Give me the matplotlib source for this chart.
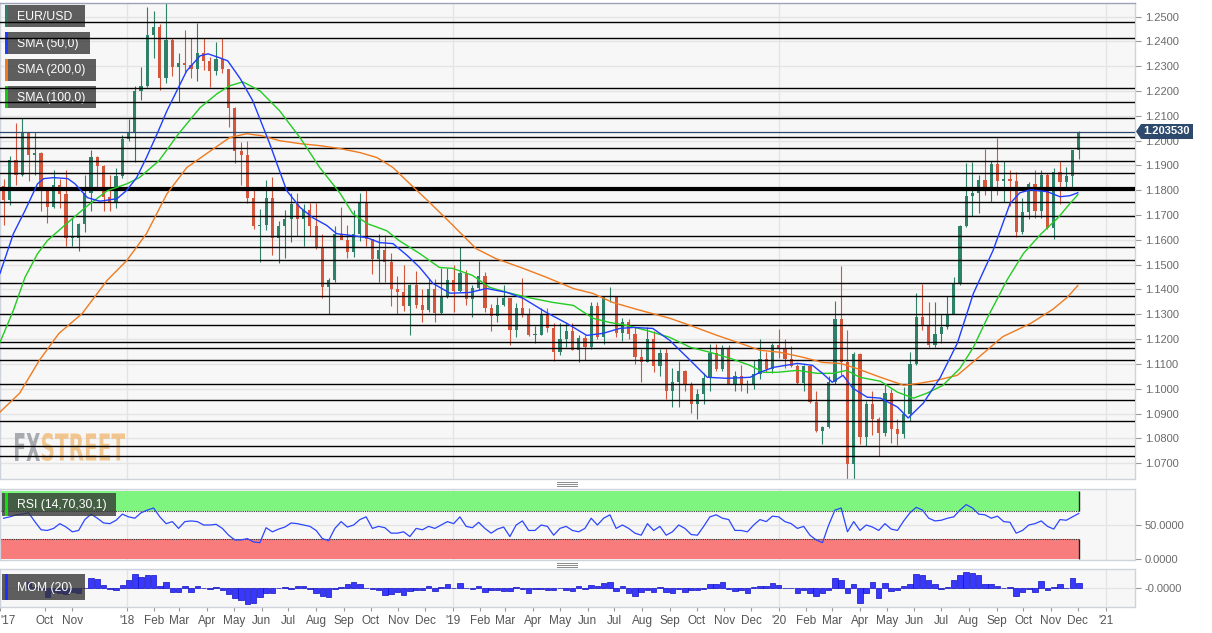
import numpy as np
import pandas as pd
import matplotlib
matplotlib.use("Agg")
import matplotlib.pyplot as plt
import matplotlib.dates as mdates
from matplotlib.patches import Rectangle, PathPatch, Polygon
from matplotlib.textpath import TextPath
from matplotlib.font_manager import FontProperties
from matplotlib.transforms import Affine2D
from matplotlib.lines import Line2D
from matplotlib.ticker import FormatStrFormatter

plt.rcParams['font.family'] = ['Liberation Sans', 'DejaVu Sans']

# ---------------- data (weekly EUR/USD) ----------------
first_week = '2017-08-14'
first_open = 1.1818

highs = [1.1845, 1.1940, 1.2070, 1.2092, 1.2035, 1.2034, 1.1953, 1.1815, 1.1880, 1.1845,
         1.1880, 1.1688, 1.1668, 1.1861, 1.1961, 1.1940, 1.1900, 1.1863, 1.1889, 1.2023,
         1.2089, 1.2219, 1.2296, 1.2537, 1.2521, 1.2472, 1.2555, 1.2412, 1.2352, 1.2446,
         1.2413, 1.2476, 1.2415, 1.2339, 1.2396, 1.2414, 1.2288, 1.2136, 1.1996, 1.1997,
         1.1800, 1.1725, 1.1840, 1.1852, 1.1675, 1.1720, 1.1791, 1.1791, 1.1745, 1.1749,
         1.1750, 1.1623, 1.1445, 1.1657, 1.1734, 1.1660, 1.1721, 1.1788, 1.1815, 1.1605,
         1.1622, 1.1621, 1.1548, 1.1456, 1.1500, 1.1422, 1.1473, 1.1401, 1.1443, 1.1441,
         1.1486, 1.1488, 1.1497, 1.1570, 1.1480, 1.1417, 1.1514, 1.1472, 1.1342, 1.1370,
         1.1419, 1.1365, 1.1345, 1.1448, 1.1326, 1.1254, 1.1324, 1.1324, 1.1264, 1.1265,
         1.1264, 1.1265, 1.1215, 1.1215, 1.1348, 1.1348, 1.1368, 1.1412, 1.1375, 1.1286,
         1.1283, 1.1250, 1.1160, 1.1249, 1.1231, 1.1161, 1.1165, 1.1085, 1.1110, 1.1076,
         1.1026, 1.0998, 1.1063, 1.1179, 1.1179, 1.1176, 1.1175, 1.1070, 1.1097, 1.1035,
         1.1117, 1.1200, 1.1150, 1.1185, 1.1239, 1.1200, 1.1173, 1.1100, 1.1096, 1.1096,
         1.0991, 1.0850, 1.1053, 1.1355, 1.1495, 1.1236, 1.1147, 1.1145, 1.0951, 1.0990,
         1.0886, 1.1019, 1.1000, 1.0876, 1.1008, 1.1147, 1.1384, 1.1422, 1.1348, 1.1349,
         1.1303, 1.1375, 1.1452, 1.1660, 1.1908, 1.1916, 1.1863, 1.1966, 1.1920, 1.2011,
         1.1917, 1.1882, 1.1872, 1.1770, 1.1832, 1.1880, 1.1880, 1.1871, 1.1891, 1.1920,
         1.1895, 1.1963, 1.2040]

lows = [1.1662, 1.1742, 1.1823, 1.1857, 1.1838, 1.1861, 1.1717, 1.1669, 1.1730, 1.1730,
        1.1574, 1.1574, 1.1554, 1.1630, 1.1715, 1.1811, 1.1717, 1.1717, 1.1730, 1.1850,
        1.2000, 1.1915, 1.2165, 1.2215, 1.2335, 1.2206, 1.2233, 1.2259, 1.2155, 1.2272,
        1.2254, 1.2239, 1.2284, 1.2216, 1.2266, 1.2272, 1.2055, 1.1910, 1.1823, 1.1750,
        1.1645, 1.1510, 1.1640, 1.1540, 1.1508, 1.1527, 1.1591, 1.1614, 1.1575, 1.1614,
        1.1565, 1.1365, 1.1301, 1.1430, 1.1607, 1.1526, 1.1529, 1.1595, 1.1576, 1.1463,
        1.1432, 1.1431, 1.1335, 1.1301, 1.1314, 1.1216, 1.1326, 1.1267, 1.1310, 1.1269,
        1.1302, 1.1365, 1.1310, 1.1390, 1.1337, 1.1290, 1.1397, 1.1310, 1.1234, 1.1268,
        1.1335, 1.1176, 1.1210, 1.1290, 1.1214, 1.1183, 1.1215, 1.1227, 1.1110, 1.1135,
        1.1168, 1.1155, 1.1107, 1.1115, 1.1160, 1.1202, 1.1181, 1.1350, 1.1207, 1.1193,
        1.1200, 1.1101, 1.1027, 1.1107, 1.1066, 1.1052, 1.0960, 1.0926, 1.0927, 1.0990,
        1.0904, 1.0879, 1.0940, 1.0992, 1.1073, 1.1072, 1.1018, 1.0989, 1.0990, 1.0981,
        1.1000, 1.1040, 1.1066, 1.1065, 1.1125, 1.1085, 1.1086, 1.1019, 1.0992, 1.0943,
        1.0827, 1.0778, 1.0840, 1.1020, 1.1055, 1.0636, 1.0636, 1.0778, 1.0768, 1.0814,
        1.0727, 1.0810, 1.0782, 1.0775, 1.0800, 1.0871, 1.1095, 1.1235, 1.1168, 1.1170,
        1.1185, 1.1240, 1.1302, 1.1420, 1.1650, 1.1696, 1.1710, 1.1780, 1.1753, 1.1782,
        1.1752, 1.1737, 1.1612, 1.1625, 1.1685, 1.1689, 1.1690, 1.1645, 1.1603, 1.1746,
        1.1800, 1.1800, 1.1925]

closes = [1.1760, 1.1924, 1.1860, 1.2034, 1.1942, 1.1951, 1.1815, 1.1731, 1.1821, 1.1784,
          1.1608, 1.1609, 1.1664, 1.1791, 1.1934, 1.1897, 1.1772, 1.1750, 1.1859, 1.2005,
          1.2029, 1.2201, 1.2222, 1.2426, 1.2460, 1.2252, 1.2406, 1.2295, 1.2315, 1.2307,
          1.2288, 1.2353, 1.2321, 1.2281, 1.2330, 1.2288, 1.2130, 1.1960, 1.1942, 1.1770,
          1.1656, 1.1659, 1.1768, 1.1609, 1.1654, 1.1685, 1.1745, 1.1686, 1.1719, 1.1657,
          1.1568, 1.1409, 1.1438, 1.1625, 1.1601, 1.1553, 1.1623, 1.1750, 1.1605, 1.1524,
          1.1560, 1.1512, 1.1401, 1.1388, 1.1335, 1.1419, 1.1339, 1.1316, 1.1404, 1.1306,
          1.1370, 1.1440, 1.1395, 1.1468, 1.1362, 1.1407, 1.1455, 1.1325, 1.1295, 1.1336,
          1.1365, 1.1235, 1.1327, 1.1300, 1.1216, 1.1217, 1.1296, 1.1245, 1.1150, 1.1202,
          1.1234, 1.1158, 1.1203, 1.1169, 1.1334, 1.1210, 1.1370, 1.1372, 1.1226, 1.1270,
          1.1219, 1.1126, 1.1108, 1.1200, 1.1092, 1.1143, 1.0989, 1.1027, 1.1073, 1.1017,
          1.0940, 1.0977, 1.1042, 1.1143, 1.1081, 1.1165, 1.1020, 1.1050, 1.1016, 1.1018,
          1.1060, 1.1121, 1.1080, 1.1175, 1.1165, 1.1120, 1.1090, 1.1025, 1.1093, 1.0945,
          1.0830, 1.0847, 1.1026, 1.1283, 1.1106, 1.0695, 1.1141, 1.0807, 1.0937, 1.0876,
          1.0820, 1.0982, 1.0838, 1.0818, 1.0900, 1.1100, 1.1290, 1.1256, 1.1177, 1.1220,
          1.1248, 1.1300, 1.1426, 1.1655, 1.1778, 1.1788, 1.1842, 1.1797, 1.1905, 1.1838,
          1.1846, 1.1837, 1.1631, 1.1714, 1.1827, 1.1715, 1.1860, 1.1646, 1.1874, 1.1832,
          1.1857, 1.1962, 1.2035]

rsi = [60, 62, 65, 66, 68, 55, 43, 42, 45, 52, 47, 40, 42, 58, 66, 60, 53, 52, 57, 66,
       62, 60, 68, 72, 75, 62, 52, 55, 45, 55, 56, 55, 50, 50, 51, 45, 35, 28, 28, 30,
       25, 24, 46, 40, 44, 47, 53, 52, 50, 48, 42, 30, 27, 45, 55, 47, 50, 58, 62, 45,
       48, 46, 38, 38, 40, 33, 45, 43, 48, 45, 50, 55, 52, 62, 48, 46, 54, 45, 38, 44,
       47, 33, 50, 56, 42, 42, 50, 48, 35, 45, 48, 42, 40, 45, 60, 50, 60, 65, 45, 50,
       45, 38, 35, 52, 42, 48, 35, 40, 50, 45, 36, 35, 48, 62, 65, 60, 58, 42, 42, 40,
       50, 58, 55, 63, 62, 55, 52, 45, 48, 35, 28, 24, 50, 72, 75, 40, 55, 42, 50, 47,
       42, 52, 44, 42, 56, 68, 76, 72, 60, 56, 57, 60, 62, 72, 80, 75, 66, 65, 60, 63,
       55, 54, 38, 42, 50, 52, 56, 48, 44, 58, 57, 62, 67]

sma50_dates = ['2017-08-12', '2017-08-27', '2017-09-09', '2017-09-23', '2017-09-30', '2017-10-11',
               '2017-10-27', '2017-11-04', '2017-11-18', '2017-12-02', '2017-12-21', '2018-01-01',
               '2018-01-12', '2018-01-23', '2018-02-04', '2018-02-15', '2018-02-26', '2018-03-09',
               '2018-03-24', '2018-04-02', '2018-04-15', '2018-04-24', '2018-05-08', '2018-05-22',
               '2018-06-10', '2018-06-29', '2018-07-14', '2018-07-28', '2018-08-13', '2018-08-24',
               '2018-09-11', '2018-09-27', '2018-10-11', '2018-10-26', '2018-11-11', '2018-11-25',
               '2018-12-10', '2018-12-29', '2019-01-20', '2019-02-08', '2019-03-03', '2019-03-21',
               '2019-04-16', '2019-05-09', '2019-05-31', '2019-06-18', '2019-07-07', '2019-07-22',
               '2019-08-13', '2019-09-01', '2019-09-24', '2019-10-13', '2019-11-04', '2019-11-30',
               '2019-12-11', '2019-12-26', '2020-01-22', '2020-02-08', '2020-02-19', '2020-03-01',
               '2020-03-13', '2020-03-24', '2020-04-09', '2020-04-24', '2020-05-13', '2020-05-25',
               '2020-06-11', '2020-06-30', '2020-07-19', '2020-08-06', '2020-08-28', '2020-09-16',
               '2020-09-27', '2020-10-09', '2020-10-28', '2020-11-11', '2020-11-22', '2020-12-01']
sma50 = [1.1465, 1.1625, 1.1718, 1.1826, 1.1847, 1.1851, 1.1847, 1.1826, 1.1770, 1.1756,
         1.1766, 1.1800, 1.1851, 1.1932, 1.2028, 1.2121, 1.2201, 1.2281, 1.2342, 1.2350,
         1.2334, 1.2322, 1.2250, 1.2161, 1.1988, 1.1799, 1.1731, 1.1690, 1.1658, 1.1625,
         1.1617, 1.1609, 1.1589, 1.1585, 1.1537, 1.1489, 1.1424, 1.1385, 1.1388, 1.1404,
         1.1388, 1.1364, 1.1307, 1.1263, 1.1215, 1.1223, 1.1243, 1.1247, 1.1243, 1.1195,
         1.1114, 1.1046, 1.1042, 1.1046, 1.1066, 1.1086, 1.1102, 1.1094, 1.1062, 1.1026,
         1.1054, 1.1002, 1.0966, 1.0962, 1.0926, 1.0882, 1.0942, 1.1046, 1.1183, 1.1384,
         1.1557, 1.1746, 1.1790, 1.1802, 1.1794, 1.1774, 1.1778, 1.1790]

sma100_dates = ['2017-08-12', '2017-08-27', '2017-09-09', '2017-09-23', '2017-10-04', '2017-10-27',
                '2017-11-18', '2017-12-10', '2018-01-01', '2018-01-15', '2018-02-06', '2018-02-28',
                '2018-03-24', '2018-04-12', '2018-04-26', '2018-05-11', '2018-05-30', '2018-06-21',
                '2018-07-14', '2018-08-05', '2018-08-28', '2018-09-11', '2018-09-27', '2018-10-19',
                '2018-11-02', '2018-11-25', '2018-12-17', '2019-01-01', '2019-01-23', '2019-02-11',
                '2019-03-03', '2019-03-26', '2019-04-23', '2019-05-16', '2019-06-07', '2019-06-26',
                '2019-07-15', '2019-08-06', '2019-09-01', '2019-09-24', '2019-10-16', '2019-11-08',
                '2019-11-30', '2019-12-15', '2019-12-30', '2020-01-22', '2020-02-13', '2020-03-02',
                '2020-03-17', '2020-04-01', '2020-04-24', '2020-05-13', '2020-05-31', '2020-06-15',
                '2020-07-03', '2020-07-22', '2020-08-06', '2020-08-22', '2020-09-13', '2020-10-01',
                '2020-10-21', '2020-11-09', '2020-11-22', '2020-12-01']
sma100 = [1.1187, 1.1316, 1.1449, 1.1544, 1.1597, 1.1670, 1.1738, 1.1798, 1.1826, 1.1851,
          1.1919, 1.2028, 1.2133, 1.2189, 1.2221, 1.2237, 1.2201, 1.2121, 1.2012, 1.1892,
          1.1787, 1.1706, 1.1666, 1.1637, 1.1597, 1.1545, 1.1489, 1.1485, 1.1457, 1.1409,
          1.1388, 1.1368, 1.1348, 1.1336, 1.1284, 1.1267, 1.1255, 1.1235, 1.1207, 1.1167,
          1.1147, 1.1122, 1.1094, 1.1066, 1.1066, 1.1074, 1.1062, 1.1062, 1.1074, 1.1046,
          1.1030, 1.0986, 1.0962, 1.0982, 1.1014, 1.1082, 1.1167, 1.1288, 1.1440, 1.1545,
          1.1625, 1.1690, 1.1746, 1.1782]

sma200_dates = ['2017-08-12', '2017-09-03', '2017-09-25', '2017-10-17', '2017-11-12', '2017-12-10',
                '2018-01-01', '2018-01-23', '2018-02-15', '2018-03-09', '2018-03-31', '2018-04-26',
                '2018-05-15', '2018-06-01', '2018-06-21', '2018-07-14', '2018-08-05', '2018-08-28',
                '2018-09-19', '2018-10-08', '2018-10-26', '2018-11-14', '2018-12-04', '2018-12-29',
                '2019-01-27', '2019-02-18', '2019-03-21', '2019-04-16', '2019-05-16', '2019-06-07',
                '2019-06-29', '2019-07-30', '2019-09-01', '2019-09-24', '2019-10-24', '2019-11-19',
                '2019-12-11', '2020-01-02', '2020-01-28', '2020-02-19', '2020-03-10', '2020-03-28',
                '2020-04-24', '2020-05-20', '2020-06-07', '2020-06-26', '2020-07-19', '2020-08-13',
                '2020-09-08', '2020-10-09', '2020-11-03', '2020-11-19', '2020-12-01']
sma200 = [1.0906, 1.0982, 1.1114, 1.1223, 1.1303, 1.1437, 1.1517, 1.1625, 1.1786, 1.1891,
          1.1947, 1.2012, 1.2028, 1.2020, 1.2000, 1.1988, 1.1980, 1.1968, 1.1952, 1.1932,
          1.1892, 1.1826, 1.1758, 1.1670, 1.1565, 1.1525, 1.1485, 1.1449, 1.1404, 1.1384,
          1.1348, 1.1316, 1.1284, 1.1255, 1.1215, 1.1183, 1.1155, 1.1147, 1.1127, 1.1106,
          1.1102, 1.1082, 1.1046, 1.1014, 1.1022, 1.1034, 1.1054, 1.1130, 1.1210, 1.1263,
          1.1320, 1.1368, 1.1416]

levels = [1.2479, 1.2413, 1.2212, 1.2157, 1.2090, 1.2013, 1.1969, 1.1919, 1.1870, 1.1754,
          1.1698, 1.1614, 1.1570, 1.1520, 1.1426, 1.1372, 1.1302, 1.1255, 1.1188, 1.1166,
          1.1115, 1.1018, 1.0954, 1.0869, 1.0768, 1.0728]
key_level = 1.1805
last_price = 1.203530

legend_items = ['EUR/USD', 'SMA (50,0)', 'SMA (200,0)', 'SMA (100,0)']
legend_colors = ['#2e7d6b', '#1f3dff', '#f07a1e', '#11cc11']

# ---------------- derived ----------------
closes = np.array(closes)
highs = np.array(highs)
lows = np.array(lows)
opens = np.r_[first_open, closes[:-1]]
n = len(closes)
weeks = pd.date_range(first_week, periods=n, freq='7D') + pd.Timedelta(days=2)
xd = mdates.date2num(weeks)
mom = np.full(n, np.nan)
mom[4:] = closes[4:] - closes[:-4]

UP, DOWN = '#2e8068', '#d5573b'
BG, GRID, SPINE = '#f7f7f7', '#e4e4e4', '#cfd3dd'

W, H = 1212, 633
fig = plt.figure(figsize=(W / 100, H / 100), dpi=100, facecolor='white')


def rect(x0, y0, x1, y1):
    return [x0 / W, 1 - y1 / H, (x1 - x0) / W, (y1 - y0) / H]


ax = fig.add_axes(rect(0, 3, 1135, 479))
ax_rsi = fig.add_axes(rect(0, 489, 1135, 560), sharex=ax)
ax_mom = fig.add_axes(rect(0, 569, 1135, 607), sharex=ax)

xl = mdates.date2num(pd.Timestamp('2017-08-12'))
xr = mdates.date2num(pd.Timestamp('2021-02-03'))
year_lines = mdates.date2num(pd.to_datetime(['2018-01-01', '2019-01-01', '2020-01-01', '2021-01-01']))

for a in (ax, ax_rsi, ax_mom):
    a.set_facecolor(BG)
    for s in a.spines.values():
        s.set_color(SPINE)
        s.set_linewidth(1)
    a.yaxis.tick_right()
    a.tick_params(axis='y', colors='#999999', labelcolor='#6a6a6a', labelsize=8, length=4, pad=3)
    a.tick_params(axis='x', bottom=False, labelbottom=False)
    for yl in year_lines:
        a.axvline(yl, color=GRID, lw=1, zorder=0)
ax.spines['top'].set_color('#9aa3b8')

# ---------------- main panel ----------------
ax.set_xlim(xl, xr)
ax.set_ylim(1.0636, 1.2555)
ax.set_yticks(np.round(np.arange(1.07, 1.2501, 0.01), 2))
ax.yaxis.set_major_formatter(FormatStrFormatter('%.4f'))
ax.grid(True, axis='y', color=GRID, lw=1)
ax.set_axisbelow(True)

col = np.where(closes >= opens, UP, DOWN)
ax.vlines(xd, lows, highs, color=col, lw=0.8, zorder=2)
body = np.maximum(np.abs(closes - opens), 0.0004)
ax.bar(xd, body, bottom=np.minimum(opens, closes), width=3.6, color=col, lw=0, zorder=2)

for lv in levels:
    ax.axhline(lv, color='black', lw=1.0, zorder=3)
ax.axhline(key_level, color='black', lw=3.0, zorder=3)
ax.axhline(last_price, color='#2c4a6e', lw=0.9, zorder=3)

ax.plot(mdates.date2num(pd.to_datetime(sma200_dates)), sma200, color='#f07a1e', lw=1.0, zorder=4)
ax.plot(mdates.date2num(pd.to_datetime(sma100_dates)), sma100, color='#22cc22', lw=1.0, zorder=4)
ax.plot(mdates.date2num(pd.to_datetime(sma50_dates)), sma50, color='#1f3dff', lw=1.0, zorder=4)

# pixel -> main axes transform (y down)
T = Affine2D().scale(1 / 1135, -1 / 476).translate(0, 479 / 476) + ax.transAxes
box_w = [80, 85, 91, 91]
for i, (lab, c) in enumerate(zip(legend_items, legend_colors)):
    y0 = 5 + 27 * i
    ax.add_patch(Rectangle((5, y0), box_w[i], 22, transform=T, color='#333333', alpha=0.78,
                           lw=0, zorder=2.5))
    ax.add_patch(Rectangle((5, y0), 3, 22, transform=T, color=c, lw=0, zorder=2.6))
    ax.text(17, y0 + 11.5, lab, transform=T, color='white', fontsize=8.8, va='center',
            ha='left', zorder=2.7)


def word(s, x0, x1, y0, y1, color, alpha):
    tp = TextPath((0, 0), s, size=10, prop=FontProperties(family='DejaVu Sans', weight='bold'))
    bb = tp.get_extents()
    tr = (Affine2D().translate(-bb.x0, -bb.y0)
          .scale((x1 - x0) / bb.width / 1135, (y1 - y0) / bb.height / 476)
          .translate(x0 / 1135, (479 - y1) / 476) + ax.transAxes)
    ax.add_patch(PathPatch(tp, transform=tr, color=color, alpha=alpha, lw=0, zorder=1))


word('FX', 15, 40, 433, 461, '#8f9096', 0.75)
word('STREET', 42, 125, 433, 461, '#f0b56a', 0.75)

# price tag
tag = Polygon([(1136 / W, 1 - 131.5 / H), (1141 / W, 1 - 124 / H), (1193 / W, 1 - 124 / H),
               (1193 / W, 1 - 139 / H), (1141 / W, 1 - 139 / H)], closed=True,
              transform=fig.transFigure, color='#2d4a6c', lw=0)
fig.add_artist(tag)
fig.text(1167 / W, 1 - 131.5 / H, '1.203530', color='white', fontsize=8, fontweight='bold',
         ha='center', va='center')

# ---------------- RSI panel ----------------
ax_rsi.set_ylim(-1.5, 103)
ax_rsi.set_yticks([0, 50])
ax_rsi.set_yticklabels(['0.0000', '50.0000'])
ax_rsi.axhline(50, color=GRID, lw=1, zorder=0)
xe = xd[-1]
ax_rsi.fill_between([xl, xe], 70, 100, color='#7ef57e', lw=0, zorder=1)
ax_rsi.fill_between([xl, xe], 0, 30, color='#f87c7c', lw=0, zorder=1)
ax_rsi.hlines([70, 30], xl, xe, colors='#333333', lw=0.8, linestyles=(0, (1, 1)), zorder=2)
ax_rsi.vlines([xe, xe], [70, 0], [100, 30], colors='#222222', lw=1, zorder=2)
ax_rsi.vlines([xl], [0], [30], colors='#222222', lw=1.5, zorder=2)
ax_rsi.plot(xd, rsi, color='#2b46ff', lw=0.9, zorder=3)

TR = Affine2D().scale(1 / 1135, -1 / 71).translate(0, 560 / 71) + ax_rsi.transAxes
ax_rsi.add_patch(Rectangle((2, 493), 114, 23, transform=TR, color='#333333', alpha=0.78, lw=0,
                           zorder=5))
ax_rsi.add_patch(Rectangle((5, 493), 3, 23, transform=TR, color='#11dd11', lw=0, zorder=6))
ax_rsi.text(17, 505, 'RSI (14,70,30,1)', transform=TR, color='white', fontsize=8.8,
            va='center', ha='left', zorder=7)

# ---------------- MOM panel ----------------
ax_mom.set_ylim(-0.062, 0.062)
ax_mom.set_yticks([0])
ax_mom.set_yticklabels(['-0.0000'])
ax_mom.axhline(0, color=GRID, lw=1, zorder=0)
ax_mom.bar(xd, mom, width=6.2, color='#3838ff', edgecolor='#1010c0', lw=0.5, zorder=2)

TM = Affine2D().scale(1 / 1135, -1 / 38).translate(0, 607 / 38) + ax_mom.transAxes
ax_mom.add_patch(Rectangle((2, 574), 83, 26, transform=TM, color='#333333', alpha=0.78, lw=0,
                           zorder=5))
ax_mom.add_patch(Rectangle((5, 574), 3, 26, transform=TM, color='#1f2fff', lw=0, zorder=6))
ax_mom.text(17, 587.5, 'MOM (20)', transform=TM, color='white', fontsize=8.8,
            va='center', ha='left', zorder=7)

mticks = [d for d in pd.date_range('2017-10-01', '2021-01-01', freq='MS')
          if not (d.year == 2017 and d.month == 12)]
mlabels = ["'" + d.strftime('%y') if d.month == 1 else d.strftime('%b') for d in mticks]
ax_mom.set_xticks([xl] + list(mdates.date2num(mticks)))
ax_mom.set_xticklabels(["'17"] + mlabels)
ax_mom.tick_params(axis='x', bottom=True, labelbottom=True, colors='#999999',
                   labelcolor='#555555', labelsize=8.5, length=3, pad=3)
ax_mom.get_xticklabels()[0].set_ha('left')
ax_mom.set_xlim(xl, xr)

# panel separators
for yy in (484, 565):
    for k in (-2, 0, 2):
        fig.add_artist(Line2D([557 / W, 577 / W], [1 - (yy + k) / H] * 2,
                              transform=fig.transFigure, color='#8a8a8a', lw=0.7))

fig.savefig('out.png', dpi=100, facecolor='white')
